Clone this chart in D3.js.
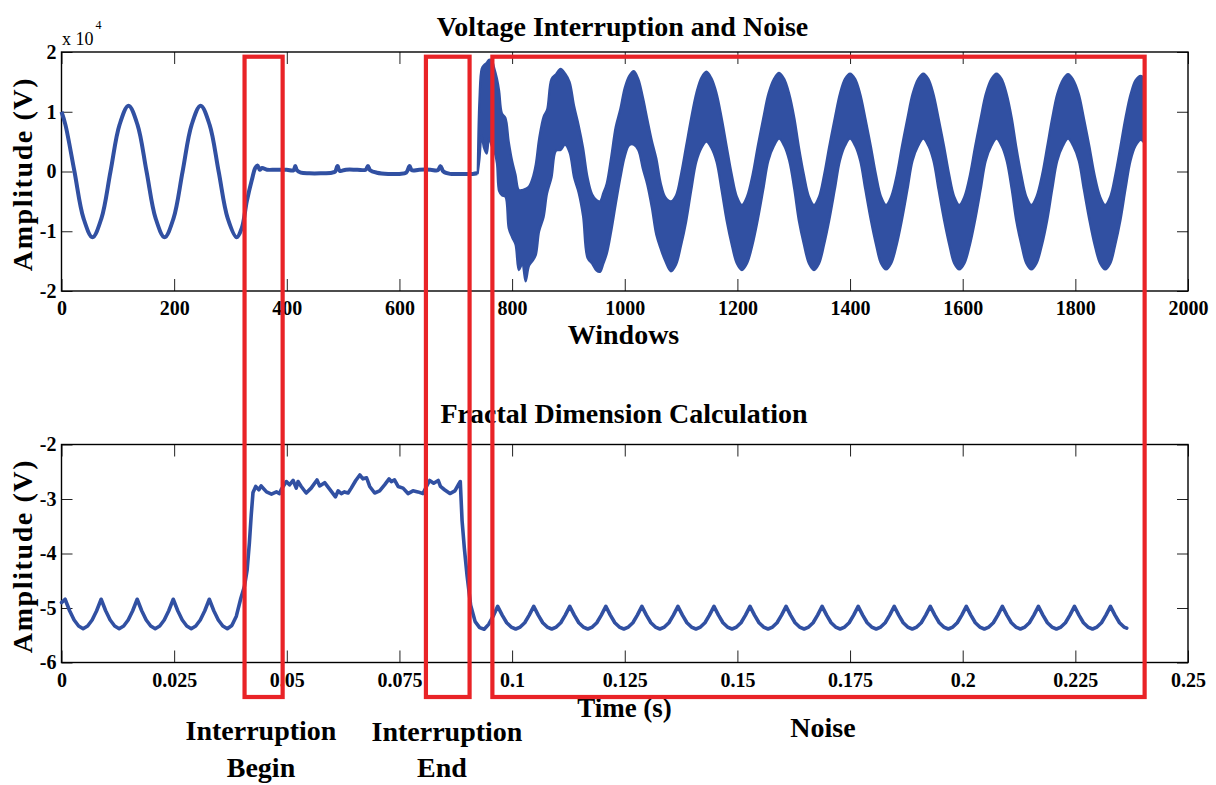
<!DOCTYPE html>
<html><head><meta charset="utf-8">
<script src="https://cdn.jsdelivr.net/npm/d3@7/dist/d3.min.js"></script>
<style>
body{margin:0;background:#fff;overflow:hidden}
svg{display:block}
text{font-family:"Liberation Serif","Times New Roman",serif;font-weight:bold;fill:#000}
</style></head>
<body><svg id="c" width="1216" height="785"></svg>
<script>
// ---------- DATA ----------
// Top panel: voltage (x 10^4 V) vs window index
const voltWin = [0,7,23,39,55,71,87,103,119,135,151,167,183,199,215,231,247,263,279,295,311,
  320,329,338,344,348,352,356,365,380,400,412,415,418,425,440,460,480,486,490,494,505,525,
  540,544,548,560,580,600,612,618,622,635,655,668,673,678,690,710,730,738];
const voltVal = [1.0,0.78,0,-0.78,-1.1,-0.78,0,0.78,1.1,0.78,0,-0.78,-1.1,-0.78,0,0.78,1.1,0.78,0,-0.78,-1.1,
  -0.95,-0.5,-0.14,0.06,0.1,0.03,0.06,0.03,0.03,0.03,0.02,0.09,0.02,-0.02,-0.03,-0.03,-0.02,0.0,0.09,0.01,0.03,0.03,
  0.03,0.09,0.02,-0.02,-0.04,-0.04,-0.02,0.09,0.02,0.03,0.03,0.02,0.09,0.0,-0.04,-0.04,-0.04,-0.03];

// Noisy segment: upper / lower edge of the dense oscillation band
const noiseWin = [739,742,746,750,755,759,764,768,773,777,782,788,794,800,806,812,818,824,830,836,842,848,856,862,870,
  878,886,894,902,910,918,926,934,942,950,956,962,968,976,984,992,1000,1008,1016,1024,1032,1040,1048,1056,1064,1072,
  1082,1091,1100,1109,1118,1127,1136,
  1145,1154,1163,1172,1181,1190,1199,
  1208,1217,1227,1236,1246,1255,1265,
  1274,1283,1292,1301,1309,1318,1327,
  1336,1345,1354,1363,1373,1382,1391,
  1400,1409,1418,1427,1437,1446,1455,
  1464,1473,1483,1492,1502,1511,1521,
  1530,1539,1548,1557,1567,1576,1585,
  1594,1603,1613,1622,1632,1641,1651,
  1660,1669,1678,1687,1695,1704,1713,
  1722,1731,1741,1750,1759,1768,1778,
  1787,1796,1806,1815,1825,1834,1844,
  1853,1862,1871,1880,1889,1898,1907,
  1916,1923];
const noiseHigh = [-0.03,1.2,1.72,1.78,1.82,1.87,1.86,1.74,1.56,1.35,0.97,0.9,0.5,0.18,-0.05,-0.31,-0.31,-0.29,-0.25,-0.12,0.12,
  0.55,0.92,1.03,1.55,1.63,1.72,1.64,1.5,1.1,0.78,0.4,-0.1,-0.38,-0.48,-0.5,-0.36,-0.2,0.25,0.75,1.04,1.4,1.6,1.68,1.55,1.25,
  0.88,0.52,0.22,-0.2,-0.43,
  -0.5,-0.4,-0.04,0.43,0.9,1.31,1.57,
  1.67,1.56,1.31,0.9,0.42,-0.05,-0.42,
  -0.56,-0.42,-0.05,0.42,0.9,1.3,1.55,
  1.65,1.55,1.3,0.9,0.42,-0.05,-0.42,
  -0.56,-0.42,-0.05,0.42,0.9,1.3,1.55,
  1.64,1.55,1.3,0.9,0.42,-0.05,-0.42,
  -0.56,-0.42,-0.05,0.42,0.9,1.3,1.55,
  1.64,1.55,1.3,0.9,0.42,-0.05,-0.42,
  -0.56,-0.42,-0.05,0.42,0.9,1.3,1.55,
  1.64,1.55,1.3,0.9,0.42,-0.05,-0.42,
  -0.56,-0.42,-0.05,0.42,0.9,1.3,1.54,
  1.63,1.54,1.3,0.9,0.42,-0.05,-0.42,
  -0.56,-0.42,-0.05,0.42,0.9,1.29,1.53,
  1.6,1.55];
const noiseLow = [-0.03,0.2,0.6,0.4,0.3,0.56,0.42,0.35,0.14,-0.33,-0.4,-0.42,-0.95,-1.1,-1.22,-1.65,-1.55,-1.84,-1.58,-1.5,-1.4,
  -1.0,-0.76,-0.37,-0.1,0.35,0.36,0.45,0.32,-0.1,-0.35,-0.75,-1.45,-1.54,-1.66,-1.68,-1.54,-1.38,-1.0,-0.55,-0.12,0.25,0.44,0.45,0.36,0.05,
  -0.22,-0.6,-1.06,-1.3,-1.5,
  -1.67,-1.56,-1.24,-0.84,-0.32,0.16,0.39,
  0.5,0.39,0.16,-0.32,-0.83,-1.23,-1.54,
  -1.65,-1.54,-1.22,-0.82,-0.3,0.18,0.43,
  0.55,0.43,0.18,-0.3,-0.82,-1.22,-1.54,
  -1.65,-1.54,-1.22,-0.82,-0.3,0.18,0.43,
  0.55,0.43,0.18,-0.3,-0.82,-1.22,-1.54,
  -1.64,-1.54,-1.22,-0.82,-0.3,0.18,0.43,
  0.55,0.43,0.18,-0.3,-0.82,-1.22,-1.54,
  -1.64,-1.54,-1.22,-0.82,-0.3,0.18,0.43,
  0.55,0.43,0.18,-0.3,-0.82,-1.22,-1.54,
  -1.64,-1.54,-1.22,-0.82,-0.3,0.18,0.43,
  0.55,0.43,0.18,-0.3,-0.82,-1.22,-1.54,
  -1.64,-1.54,-1.22,-0.82,-0.3,0.18,0.43,
  0.53,0.47];

// Bottom panel: fractal dimension vs time (s)
const fdTime = [0,0.0008,0.0018,0.0028,0.0038,0.0048,0.0058,0.0068,0.0078,
  0.0088,0.0098,0.0108,0.0118,0.0128,0.0138,0.0148,0.0158,
  0.0168,0.0178,0.0188,0.0198,0.0208,0.0218,0.0228,0.0238,
  0.0248,0.0258,0.0268,0.0278,0.0288,0.0298,0.0308,0.0318,
  0.0328,0.0338,0.0348,0.0358,0.0368,0.0378,0.0388,0.0398,
  0.0406,0.0412,0.0417,0.0421,0.0425,
  0.0431,0.0438,0.0443,0.0455,0.0466,0.0477,0.0484,0.0488,0.0499,0.0506,0.0514,0.0521,0.0525,0.0532,0.0543,0.0554,
  0.0567,0.0573,0.0584,0.0595,0.0608,0.0614,0.0621,0.0628,0.0636,0.0643,0.0653,0.0662,0.0669,0.0677,0.0684,0.0695,
  0.0706,0.0717,0.0727,0.0732,0.0739,0.0747,0.0758,0.0769,0.078,0.0791,0.0802,0.081,0.0817,0.0826,0.0836,0.0841,
  0.085,0.0862,0.0873,0.0882,0.0885,
  0.0889,0.0894,0.09,0.0908,0.0918,0.0928,0.0938,0.0948,0.0958,
  0.0968,0.0978,0.0988,0.0998,0.1008,0.1018,0.1028,0.1038,
  0.1048,0.1058,0.1068,0.1078,0.1088,0.1098,0.1108,0.1118,
  0.1128,0.1138,0.1148,0.1158,0.1168,0.1178,0.1188,0.1198,
  0.1208,0.1218,0.1228,0.1238,0.1248,0.1258,0.1268,0.1278,
  0.1288,0.1298,0.1308,0.1318,0.1328,0.1338,0.1348,0.1358,
  0.1368,0.1378,0.1388,0.1398,0.1408,0.1418,0.1428,0.1438,
  0.1448,0.1458,0.1468,0.1478,0.1488,0.1498,0.1508,0.1518,
  0.1528,0.1538,0.1548,0.1558,0.1568,0.1578,0.1588,0.1598,
  0.1608,0.1618,0.1628,0.1638,0.1648,0.1658,0.1668,0.1678,
  0.1688,0.1698,0.1708,0.1718,0.1728,0.1738,0.1748,0.1758,
  0.1768,0.1778,0.1788,0.1798,0.1808,0.1818,0.1828,0.1838,
  0.1848,0.1858,0.1868,0.1878,0.1888,0.1898,0.1908,0.1918,
  0.1928,0.1938,0.1948,0.1958,0.1968,0.1978,0.1988,0.1998,
  0.2008,0.2018,0.2028,0.2038,0.2048,0.2058,0.2068,0.2078,
  0.2088,0.2098,0.2108,0.2118,0.2128,0.2138,0.2148,0.2158,
  0.2168,0.2178,0.2188,0.2198,0.2208,0.2218,0.2228,0.2238,
  0.2248,0.2258,0.2268,0.2278,0.2288,0.2298,0.2308,0.2318,
  0.2328,0.2338,0.2348,0.2358,0.2364];
const fdValue = [-4.9,-4.84,-5.05,-5.22,-5.33,-5.38,-5.33,-5.22,-5.05,
  -4.84,-5.05,-5.22,-5.33,-5.38,-5.33,-5.22,-5.05,
  -4.84,-5.05,-5.22,-5.33,-5.38,-5.33,-5.22,-5.05,
  -4.84,-5.05,-5.22,-5.33,-5.38,-5.33,-5.22,-5.05,
  -4.84,-5.05,-5.22,-5.33,-5.38,-5.32,-5.15,-4.82,
  -4.6,-4.3,-3.8,-3.3,-2.88,
  -2.77,-2.83,-2.76,-2.87,-2.91,-2.87,-2.9,-2.82,-2.68,-2.74,-2.66,-2.8,-2.68,-2.77,-2.89,-2.8,
  -2.65,-2.76,-2.7,-2.82,-2.96,-2.85,-2.9,-2.87,-2.89,-2.8,-2.66,-2.56,-2.63,-2.61,-2.77,-2.89,
  -2.85,-2.74,-2.63,-2.68,-2.65,-2.77,-2.8,-2.9,-2.85,-2.87,-2.9,-2.77,-2.66,-2.71,-2.66,-2.77,
  -2.83,-2.9,-2.85,-2.72,-2.68,
  -3.4,-3.9,-4.4,-4.95,-5.25,-5.36,-5.39,-5.3,-5.15,
  -4.97,-5.13,-5.27,-5.35,-5.385,-5.35,-5.27,-5.13,
  -4.97,-5.13,-5.27,-5.35,-5.385,-5.35,-5.27,-5.13,
  -4.97,-5.13,-5.27,-5.35,-5.385,-5.35,-5.27,-5.13,
  -4.97,-5.13,-5.27,-5.35,-5.385,-5.35,-5.27,-5.13,
  -4.97,-5.13,-5.27,-5.35,-5.385,-5.35,-5.27,-5.13,
  -4.97,-5.13,-5.27,-5.35,-5.385,-5.35,-5.27,-5.13,
  -4.97,-5.13,-5.27,-5.35,-5.385,-5.35,-5.27,-5.13,
  -4.97,-5.13,-5.27,-5.35,-5.385,-5.35,-5.27,-5.13,
  -4.97,-5.13,-5.27,-5.35,-5.385,-5.35,-5.27,-5.13,
  -4.97,-5.13,-5.27,-5.35,-5.385,-5.35,-5.27,-5.13,
  -4.97,-5.13,-5.27,-5.35,-5.385,-5.35,-5.27,-5.13,
  -4.97,-5.13,-5.27,-5.35,-5.385,-5.35,-5.27,-5.13,
  -4.97,-5.13,-5.27,-5.35,-5.385,-5.35,-5.27,-5.13,
  -4.97,-5.13,-5.27,-5.35,-5.385,-5.35,-5.27,-5.13,
  -4.97,-5.13,-5.27,-5.35,-5.385,-5.35,-5.27,-5.13,
  -4.97,-5.13,-5.27,-5.35,-5.385,-5.35,-5.27,-5.13,
  -4.97,-5.13,-5.27,-5.35,-5.385,-5.35,-5.27,-5.13,
  -4.97,-5.13,-5.27,-5.35,-5.37];

// Tick values / labels
const topXTicks = [0,200,400,600,800,1000,1200,1400,1600,1800,2000];
const topYTicks = [-2,-1,0,1,2];
const botXTicks = [0,0.025,0.05,0.075,0.1,0.125,0.15,0.175,0.2,0.225,0.25];
const botXLabels = ["0","0.025","0.05","0.075","0.1","0.125","0.15","0.175","0.2","0.225","0.25"];
const botYTicks = [-6,-5,-4,-3,-2];

// Highlight regions (in window units of the top axis)
const regionNames = ["Interruption Begin","Interruption End","Noise"];
const regionStart = [325,647,765];
const regionEnd = [392.6,724.5,1923];

// ---------- DRAW ----------
const svg = d3.select("#c");
const BLUE = "#3150a2", RED = "#e92327";
const L = 61.5, R = 1188;
const T1 = 52, B1 = 291, T2 = 444.5, B2 = 662.5;

const xTop = d3.scaleLinear().domain([0,2000]).range([L,R]);
const yTop = d3.scaleLinear().domain([-2,2]).range([B1,T1]);
const xBot = d3.scaleLinear().domain([0,0.25]).range([L,R]);
const yBot = d3.scaleLinear().domain([-6,-2]).range([B2,T2]);

function styleAxis(g, hideText){
  g.select(".domain").remove();
  g.selectAll(".tick line").attr("stroke","#222").attr("stroke-width",1);
  g.attr("font-family",null).attr("font-size",null);
  g.selectAll("text").style("font-size","20px").attr("fill","#000");
  if(hideText) g.selectAll("text").remove();
}

function axes(x, y, xt, yt, xfmt, yfmt, top, bottom){
  svg.append("g").attr("transform",`translate(0,${bottom})`)
    .call(d3.axisBottom(x).tickValues(xt).tickFormat(xfmt).tickSize(-12).tickPadding(10))
    .call(g=>styleAxis(g,false));
  svg.append("g").attr("transform",`translate(0,${top})`)
    .call(d3.axisTop(x).tickValues(xt).tickSize(-12))
    .call(g=>styleAxis(g,true));
  svg.append("g").attr("transform",`translate(${L},0)`)
    .call(d3.axisLeft(y).tickValues(yt).tickFormat(yfmt).tickSize(-11).tickPadding(5))
    .call(g=>styleAxis(g,false));
  svg.append("g").attr("transform",`translate(${R},0)`)
    .call(d3.axisRight(y).tickValues(yt).tickSize(-11))
    .call(g=>styleAxis(g,true));
  svg.append("rect").attr("x",L).attr("y",top).attr("width",R-L).attr("height",bottom-top)
    .attr("fill","none").attr("stroke","#000").attr("stroke-width",1.4);
}

axes(xTop, yTop, topXTicks, topYTicks, d3.format("d"), d=>String(d), T1, B1);
axes(xBot, yBot, botXTicks, botYTicks, (d,i)=>botXLabels[i], d=>String(d), T2, B2);

// Top series
svg.append("path")
  .attr("d", d3.line().x((d,i)=>xTop(voltWin[i])).y(d=>yTop(d)).curve(d3.curveCatmullRom)(voltVal))
  .attr("fill","none").attr("stroke",BLUE).attr("stroke-width",4).attr("stroke-linejoin","round");

svg.append("path")
  .attr("d", d3.area().x((d,i)=>xTop(noiseWin[i])).y0((d,i)=>yTop(noiseLow[i])).y1(d=>yTop(d))
    .curve(d3.curveCatmullRom)(noiseHigh))
  .attr("fill",BLUE).attr("stroke",BLUE).attr("stroke-width",2.2).attr("stroke-linejoin","round");

// Bottom series
svg.append("path")
  .attr("d", d3.line().x((d,i)=>xBot(fdTime[i])).y(d=>yBot(d))(fdValue))
  .attr("fill","none").attr("stroke",BLUE).attr("stroke-width",3.6)
  .attr("stroke-linejoin","round").attr("stroke-linecap","round");

// Titles and labels
function label(txt, x, y, size){
  return svg.append("text").attr("x",x).attr("y",y).attr("text-anchor","middle")
    .style("font-size",size+"px").text(txt);
}
label("Voltage Interruption and Noise", 622.5, 36, 28);
label("Windows", 623.5, 344, 28);
label("Fractal Dimension Calculation", 624, 423, 28);
label("Time (s)", 624.5, 717, 27);

const mult = svg.append("text").attr("x",62).attr("y",45).style("font-size","18px").style("font-weight","normal");
mult.append("tspan").text("x 10");
mult.append("tspan").attr("dy",-16).attr("dx",2).style("font-size","12px").text("4");

[174, 556].forEach(cy=>{
  svg.append("text").attr("transform",`translate(32,${cy}) rotate(-90)`)
    .attr("text-anchor","middle").style("font-size","28px").style("letter-spacing","1.6px")
    .text("Amplitude (V)");
});

// Region annotations
const regTop = yTop(1.921), regBottom = 697;
regionStart.forEach((s,i)=>{
  svg.append("rect").attr("x",xTop(s)).attr("y",regTop)
    .attr("width",xTop(regionEnd[i])-xTop(s)).attr("height",regBottom-regTop)
    .attr("fill","none").attr("stroke",RED).attr("stroke-width",4.2);
});
label("Interruption", 261, 740, 28);
label("Begin", 261, 777, 28);
label("Interruption", 447, 741, 28);
label("End", 442, 777, 28);
label("Noise", 823, 737, 28);
</script>
</body></html>
